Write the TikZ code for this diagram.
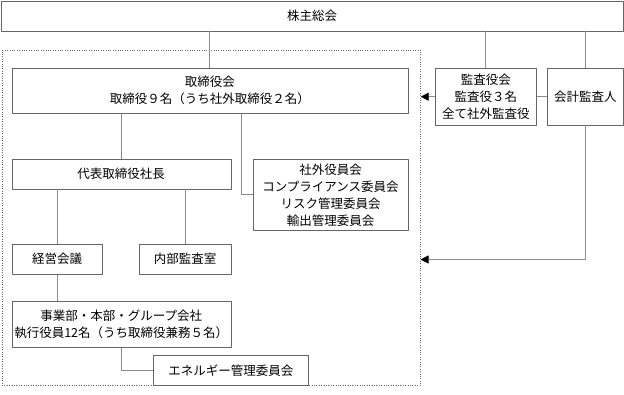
\documentclass[tikz,border=0pt]{standalone}
\usepackage{fontspec}
\newfontfamily\jpfont{Noto Sans CJK JP}
\usetikzlibrary{arrows.meta}
\begin{document}
\begin{tikzpicture}[x=1pt, y=-1pt, font=\jpfont\fontsize{12.5}{17}\selectfont, line join=round, >={Triangle[length=8pt, width=8pt, color=black]},
	box/.style={draw=black!60, fill=white, align=center, inner sep=0pt},
	link/.style={draw=black!45, line width=0.9pt},
	frame/.style={draw=black!60, dotted, inner sep=0pt}]
	\useasboundingbox (0, 0) rectangle (624, 394);
	\node[frame, minimum width=418.5pt, minimum height=335pt] (frame) at (211.25, 217.5) {};
	\node[box, minimum width=622pt, minimum height=30pt] (kabu) at (312, 15.7) {株主総会};
	\node[box, minimum width=396pt, minimum height=45pt] (torishimari) at (209.8, 90.8) {取締役会\\取締役９名（うち社外取締役２名）};
	\node[box, minimum width=101.7pt, minimum height=56.7pt] (kansayaku) at (485.8, 96.7) {監査役会\\監査役３名\\全て社外監査役};
	\node[box, minimum width=75.3pt, minimum height=56.7pt] (kaikei) at (585.3, 96.7) {会計監査人};
	\node[box, minimum width=219pt, minimum height=30pt] (shacho) at (121.2, 174) {代表取締役社長};
	\node[box, minimum width=155pt, minimum height=71.7pt] (iinkai) at (330.5, 194.8) {社外役員会\\コンプライアンス委員会\\リスク管理委員会\\輸出管理委員会};
	\node[box, minimum width=89.4pt, minimum height=30.3pt] (keiei) at (57, 259.2) {経営会議};
	\node[box, minimum width=91.4pt, minimum height=30.3pt] (naibu) at (185, 259.2) {内部監査室};
	\node[box, minimum width=219pt, minimum height=46.3pt] (jigyo) at (121.2, 324.2) {事業部・本部・グループ会社\\執行役員12名（うち取締役兼務５名）};
	\node[box, minimum width=155pt, minimum height=29.3pt] (energy) at (230.8, 370.3) {エネルギー管理委員会};
	\coordinate (kaikeiEnd) at (420.5, 259.5);
	\draw[link] (torishimari.north) -- (torishimari.north |- kabu.south);
	\draw[link] (kansayaku.north) -- (kansayaku.north |- kabu.south);
	\draw[link] (kaikei.north) -- (kaikei.north |- kabu.south);
	\draw[link] (kansayaku.east) -- (kaikei.west);
	\draw[link, ->] (kansayaku.west) -- (kansayaku.west -| frame.east);
	\draw[link, ->] (kaikei.south) |- (kaikeiEnd);
	\draw[link] (torishimari.south -| shacho.north) -- (shacho.north);
	\draw[link] ([xshift=32pt]torishimari.south) |- (iinkai.west);
	\draw[link] (shacho.south -| keiei.north) -- (keiei.north);
	\draw[link] (shacho.south -| naibu.north) -- (naibu.north);
	\draw[link] (keiei.south) -- (keiei.south |- jigyo.north);
	\draw[link] (jigyo.south) |- (energy.west);
\end{tikzpicture}
\end{document}
